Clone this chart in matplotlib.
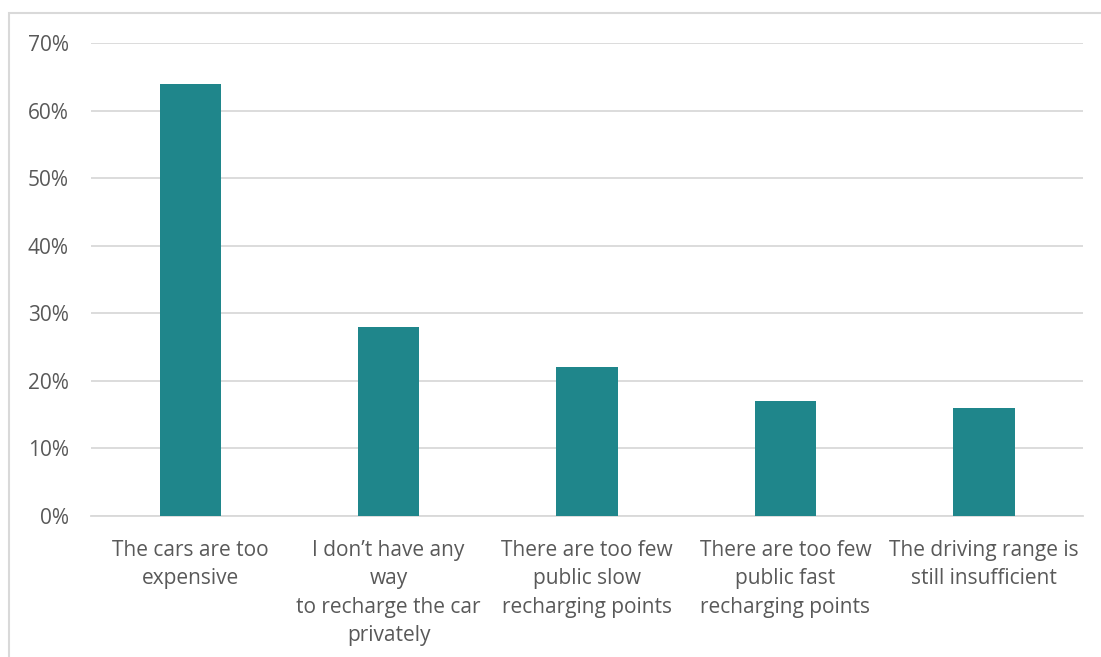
import numpy as np
import matplotlib.pyplot as plt
from matplotlib.patches import Rectangle
from matplotlib.ticker import PercentFormatter

# survey answers
categories = ['The cars are too\nexpensive',
              'I don\u2019t have any\nway\nto recharge the car\nprivately',
              'There are too few\npublic slow\nrecharging points',
              'There are too few\npublic fast\nrecharging points',
              'The driving range is\nstill insufficient']
share_pct = [64, 28, 22, 17, 16]
y_ticks = [0, 10, 20, 30, 40, 50, 60, 70]

plt.rcParams['font.family'] = ['Open Sans', 'DejaVu Sans']

fig = plt.figure(figsize=(11.01, 6.57), dpi=100)
ax = fig.add_axes([0.0827, 0.2146, 0.9010, 0.7200])

# outer frame (chart area border)
fig.patches.append(Rectangle((9 / 1101, -0.1), 1.2, 1 - 13 / 657 + 0.1,
                             transform=fig.transFigure, fill=False,
                             edgecolor='#D9D9D9', linewidth=1.5))

x = np.arange(len(categories))
ax.bar(x, share_pct, width=0.31, color='#1F868B', zorder=3)

ax.set_xlim(-0.5, len(categories) - 0.5)
ax.set_ylim(0, 70)
ax.set_yticks(y_ticks)
ax.yaxis.set_major_formatter(PercentFormatter(decimals=0))
ax.grid(axis='y', color='#D9D9D9', linewidth=1.3, zorder=0)
ax.set_xticks(x)
ax.set_xticklabels(categories, linespacing=1.47)

for s in ['top', 'right', 'left']:
    ax.spines[s].set_visible(False)
ax.spines['bottom'].set_color('#D9D9D9')
ax.spines['bottom'].set_linewidth(1.3)
ax.tick_params(axis='both', length=0, colors='#595959', labelsize=15)
ax.tick_params(axis='y', pad=16)
ax.tick_params(axis='x', pad=17)

fig.savefig('out.png', dpi=100)
